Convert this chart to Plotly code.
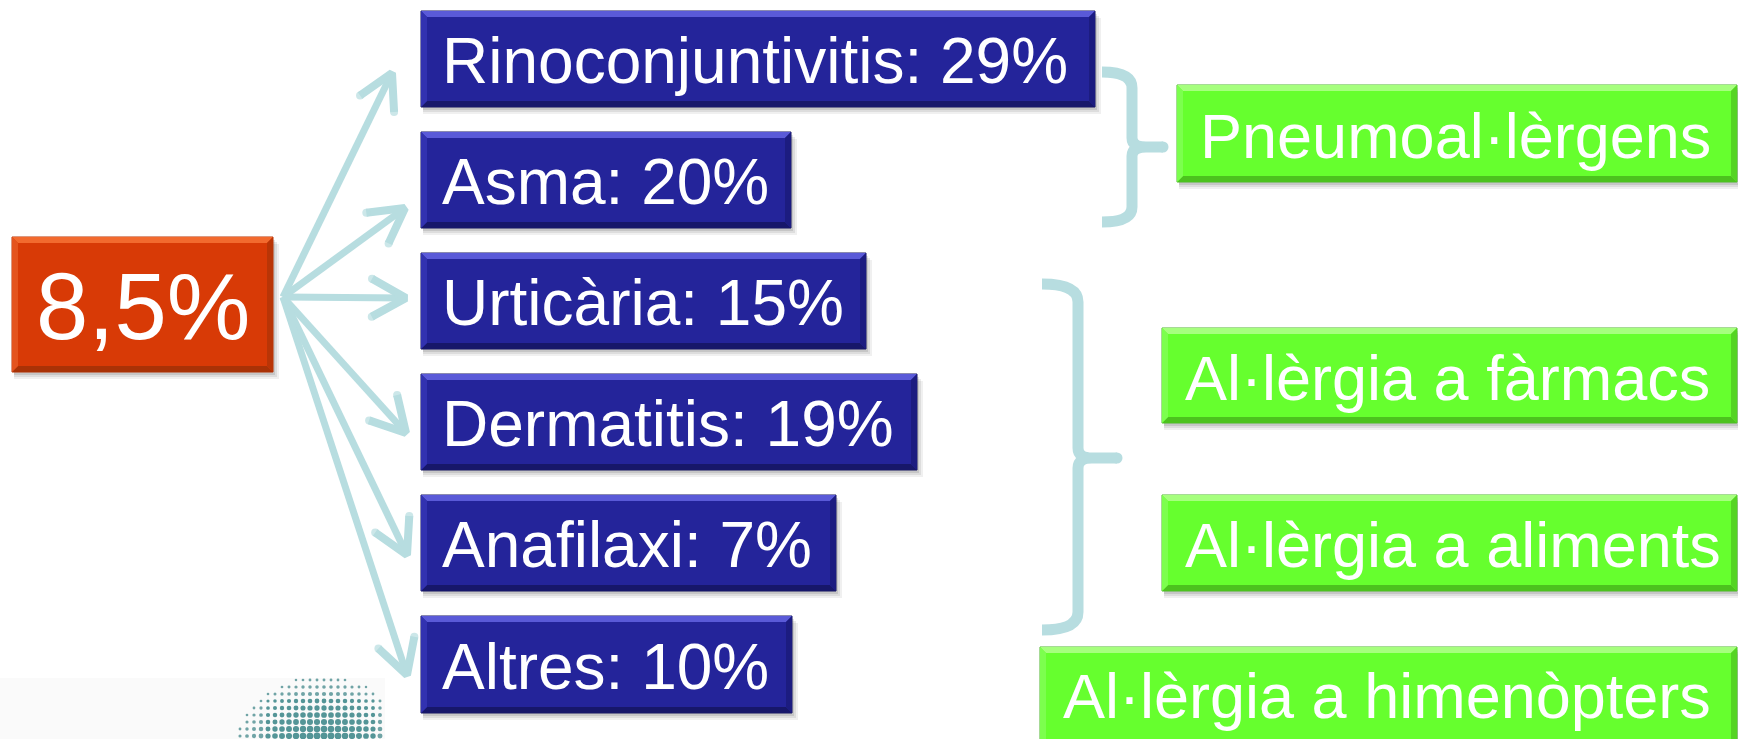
import numpy as np
import plotly.graph_objects as go

W, H = 1738, 739

# ---------------- data (text content) ----------------
root_label = "8,5%"
categories = ["Rinoconjuntivitis", "Asma", "Urticària", "Dermatitis", "Anafilaxi", "Altres"]
percentages = [29, 20, 15, 19, 7, 10]
groups = ["Pneumoal·lèrgens", "Al·lèrgia a fàrmacs", "Al·lèrgia a aliments", "Al·lèrgia a himenòpters"]

# ---------------- layout geometry (pixel space on axes) ----------------
root_box = (12, 237, 273, 372)
cat_boxes = [(421, 11, 1095, 107), (421, 132, 791, 228), (421, 253, 866, 349),
             (421, 374, 917, 470), (421, 495, 836, 591), (421, 616, 792, 713)]
arrow_origin = (283, 297)
arrow_tips = [(392, 73), (405, 208), (406, 298), (406, 433), (407, 555), (407, 675)]
group_boxes = [(1177, 85, 1737, 182), (1162, 328, 1737, 423),
               (1162, 495, 1737, 591), (1040, 647, 1737, 750)]

FONT = "Liberation Sans, Arial, Helvetica, sans-serif"
ARROW_C = "#B7DDE0"

shapes = []
annotations = []


def poly(pts, fill):
    d = "M " + " L ".join(f"{x},{y}" for x, y in pts) + " Z"
    return dict(type="path", path=d, fillcolor=fill, line=dict(width=0),
                xref="x", yref="y", layer="above")


def bevel_box(box, base, light, dark, side_l, side_r, edge, b=6):
    x0, y0, x1, y1 = box
    # soft shadow
    for k, op in [(7, 0.06), (5, 0.08), (3, 0.10)]:
        shapes.append(dict(type="rect", x0=x0 + 2, y0=y0 + k, x1=x1 + k - 1, y1=y1 + k,
                           fillcolor=f"rgba(0,0,0,{op})", line=dict(width=0),
                           xref="x", yref="y", layer="above"))
    shapes.append(dict(type="rect", x0=x0, y0=y0, x1=x1, y1=y1, fillcolor=base,
                       line=dict(color=edge, width=1), xref="x", yref="y", layer="above"))
    shapes.append(poly([(x0, y0), (x1, y0), (x1 - b, y0 + b), (x0 + b, y0 + b)], light))
    shapes.append(poly([(x0, y1), (x1, y1), (x1 - b, y1 - b), (x0 + b, y1 - b)], dark))
    shapes.append(poly([(x0, y0), (x0 + b, y0 + b), (x0 + b, y1 - b), (x0, y1)], side_l))
    shapes.append(poly([(x1, y0), (x1 - b, y0 + b), (x1 - b, y1 - b), (x1, y1)], side_r))


# faint logo background
shapes.append(dict(type="rect", x0=0, y0=678, x1=385, y1=739, fillcolor="#FAFAFA",
                   line=dict(width=0), xref="x", yref="y", layer="below"))

# root box
bevel_box(root_box, "#D83A06", "#F26A2E", "#A93206", "#E4541E", "#B93506", "#B53305")
annotations.append(dict(x=(root_box[0] + root_box[2]) / 2, y=(root_box[1] + root_box[3]) / 2 + 2,
                        text=root_label, showarrow=False, xanchor="center", yanchor="middle",
                        font=dict(family=FONT, size=94, color="white")))

# category boxes
for (cat, pct, box) in zip(categories, percentages, cat_boxes):
    bevel_box(box, "#24249A", "#5A5AD8", "#17176A", "#3232B0", "#1C1C80", "#15155E")
    annotations.append(dict(x=box[0] + 19, y=(box[1] + box[3]) / 2 + 2, text=f"{cat}: {pct}%",
                            showarrow=False, xanchor="left", yanchor="middle",
                            font=dict(family=FONT, size=64, color="white")))

# group boxes
for (g, box) in zip(groups, group_boxes):
    bevel_box(box, "#66FF2E", "#A6FF7E", "#4CC21E", "#7CFF4E", "#55D424", "#4DB52A")
    yc = (box[1] + box[3]) / 2 + 2 if box[3] < 740 else box[1] + 49
    annotations.append(dict(x=box[0] + 21, y=yc,
                            text=g, showarrow=False, xanchor="left", yanchor="middle",
                            font=dict(family=FONT, size=63, color="white")))

# brackets
br1 = ("M 1102,72 Q 1132,72 1132,88 L 1132,138 Q 1132,147 1146,147 L 1163,147 "
       "M 1146,147 Q 1132,147 1132,156 L 1132,207 Q 1132,222 1102,222")
br2 = ("M 1042,284 Q 1078,284 1078,302 L 1078,448 Q 1078,458 1092,458 L 1117,458 "
       "M 1092,458 Q 1078,458 1078,468 L 1078,612 Q 1078,630 1042,630")
for p in (br1, br2):
    shapes.append(dict(type="path", path=p, line=dict(color=ARROW_C, width=11),
                       xref="x", yref="y", layer="below"))

fig = go.Figure()

# bracket tip round caps
fig.add_trace(go.Scatter(x=[1163, 1117], y=[147, 458], mode="markers",
                         marker=dict(size=11, color=ARROW_C, line=dict(width=0)),
                         hoverinfo="skip", showlegend=False))

# arrows
ox, oy = arrow_origin
head_len, head_ang = 39, np.radians(29)
for tx, ty in arrow_tips:
    dx, dy = ox - tx, oy - ty
    n = np.hypot(dx, dy)
    ux, uy = dx / n, dy / n
    arms = []
    for s in (1, -1):
        ca, sa = np.cos(s * head_ang), np.sin(s * head_ang)
        ax = tx + head_len * (ux * ca - uy * sa)
        ay = ty + head_len * (ux * sa + uy * ca)
        arms.append((ax, ay))
    fig.add_trace(go.Scatter(x=[ox, tx], y=[oy, ty], mode="lines",
                             line=dict(color=ARROW_C, width=7),
                             hoverinfo="skip", showlegend=False))
    fig.add_trace(go.Scatter(x=[arms[0][0], tx, arms[1][0]], y=[arms[0][1], ty, arms[1][1]],
                             mode="lines+markers", line=dict(color=ARROW_C, width=8),
                             marker=dict(size=[8, 0, 8], color=ARROW_C, line=dict(width=0)),
                             hoverinfo="skip", showlegend=False))

# halftone logo fragment (decoration)
gx, gy = np.meshgrid(np.arange(240, 386, 7.0), np.arange(680, 742, 7.0))
gx, gy = gx.ravel(), gy.ravel()
cx, cy, r = 322, 772, 96
d = np.hypot(gx - cx, gy - cy)
keep = d < r
gx, gy, d = gx[keep], gy[keep], d[keep]
sizes = np.clip(7.5 - 5.0 * (d / r) ** 2, 2.2, 7.5)
dark = (gx > 262) & (gx < 378) & (gy > 696)
cols = np.where(dark, "#0D6A6C", "#357F82")
fig.add_trace(go.Scatter(x=gx, y=gy, mode="markers",
                         marker=dict(size=sizes, color=cols, line=dict(width=0)),
                         hoverinfo="skip", showlegend=False))

fig.update_layout(
    width=W, height=H,
    margin=dict(l=0, r=0, t=0, b=0),
    paper_bgcolor="white", plot_bgcolor="white",
    xaxis=dict(range=[0, W], visible=False, fixedrange=True),
    yaxis=dict(range=[H, 0], visible=False, fixedrange=True),
    shapes=shapes, annotations=annotations,
    showlegend=False,
)

fig.write_html("out.html", config=dict(displayModeBar=False),
               post_script="document.body.style.margin='0';document.body.style.overflow='hidden';")
